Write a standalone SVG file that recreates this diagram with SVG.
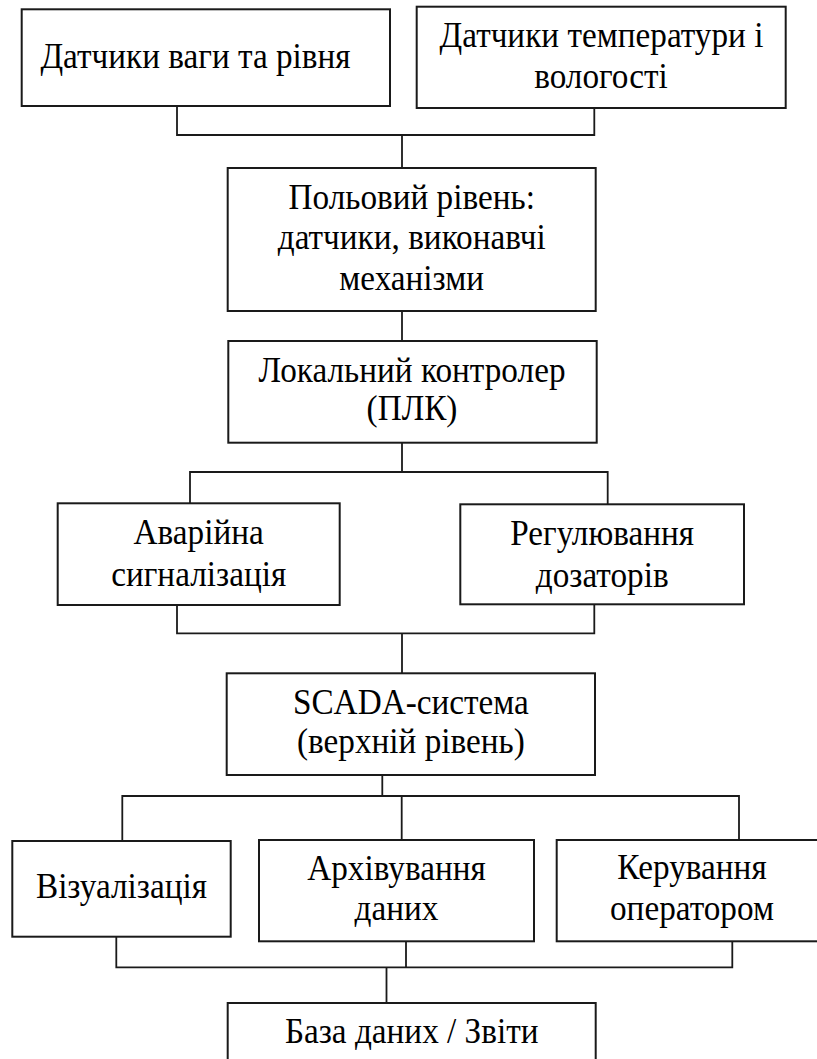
<svg xmlns="http://www.w3.org/2000/svg" width="817" height="1059" viewBox="0 0 817 1059">
<defs>
<style>
.box{fill:#fff;stroke:#1a1a1a;stroke-width:2}
.ln{fill:none;stroke:#1a1a1a;stroke-width:1.8}
</style>
</defs>
<rect width="817" height="1059" fill="#fff"/>
<g id="connectors">
<path class="ln" d="M177,106 V135 H594.3 V108 M402,135 V168"/>
<path class="ln" d="M402,311 V341"/>
<path class="ln" d="M402,442.7 V472 M190,503.3 V472 H607.7 V504.3"/>
<path class="ln" d="M177,605 V633.3 H594.3 V604.3 M402,633.3 V673.3"/>
<path class="ln" d="M382.3,775 V796 M122.3,841 V796 H739 V840 M401.7,796 V840"/>
<path class="ln" d="M116.3,936.7 V967.3 H732.3 V941.3 M406,941.3 V967.3 M386.5,967.3 V1003"/>
</g>
<g id="n1"><rect class="box" x="21.7" y="9.3" width="368.3" height="96.7"/><text font-family="Liberation Serif, serif" font-size="35" text-anchor="middle" transform="matrix(0.95 0 0 1 195.5 0)" x="0" y="68.3">Датчики ваги та рівня</text></g>
<g id="n2"><rect class="box" x="416.7" y="6.7" width="369" height="101.3"/><text font-family="Liberation Serif, serif" font-size="35" text-anchor="middle" transform="matrix(0.95 0 0 1 601.5 0)" x="0" y="46.7">Датчики температури і</text><text font-family="Liberation Serif, serif" font-size="35" text-anchor="middle" transform="matrix(0.95 0 0 1 601 0)" x="0" y="88.3">вологості</text></g>
<g id="n3"><rect class="box" x="227.7" y="168" width="368" height="143"/><text font-family="Liberation Serif, serif" font-size="35" text-anchor="middle" transform="matrix(0.95 0 0 1 411.7 0)" x="0" y="209">Польовий рівень:</text><text font-family="Liberation Serif, serif" font-size="35" text-anchor="middle" transform="matrix(0.95 0 0 1 411.7 0)" x="0" y="249">датчики, виконавчі</text><text font-family="Liberation Serif, serif" font-size="35" text-anchor="middle" transform="matrix(0.95 0 0 1 411.7 0)" x="0" y="290">механізми</text></g>
<g id="n4"><rect class="box" x="228.3" y="341" width="368.4" height="101.7"/><text font-family="Liberation Serif, serif" font-size="35" text-anchor="middle" transform="matrix(0.95 0 0 1 412 0)" x="0" y="381.7">Локальний контролер</text><text font-family="Liberation Serif, serif" font-size="35" text-anchor="middle" transform="matrix(0.95 0 0 1 412 0)" x="0" y="420">(ПЛК)</text></g>
<g id="n5"><rect class="box" x="57.7" y="503.3" width="282" height="101.7"/><text font-family="Liberation Serif, serif" font-size="35" text-anchor="middle" transform="matrix(0.95 0 0 1 198.7 0)" x="0" y="544">Аварійна</text><text font-family="Liberation Serif, serif" font-size="35" text-anchor="middle" transform="matrix(0.95 0 0 1 198.7 0)" x="0" y="585.7">сигналізація</text></g>
<g id="n6"><rect class="box" x="460.3" y="504.3" width="283.7" height="100"/><text font-family="Liberation Serif, serif" font-size="35" text-anchor="middle" transform="matrix(0.95 0 0 1 602.2 0)" x="0" y="545">Регулювання</text><text font-family="Liberation Serif, serif" font-size="35" text-anchor="middle" transform="matrix(0.95 0 0 1 602.2 0)" x="0" y="586.7">дозаторів</text></g>
<g id="n7"><rect class="box" x="226.7" y="673.3" width="368.3" height="101.7"/><text font-family="Liberation Serif, serif" font-size="35" text-anchor="middle" transform="matrix(0.95 0 0 1 410.9 0)" x="0" y="714">SCADA-система</text><text font-family="Liberation Serif, serif" font-size="35" text-anchor="middle" transform="matrix(0.95 0 0 1 410.9 0)" x="0" y="752.7">(верхній рівень)</text></g>
<g id="n8"><rect class="box" x="12.3" y="841" width="218.4" height="95.7"/><text font-family="Liberation Serif, serif" font-size="35" text-anchor="middle" transform="matrix(0.95 0 0 1 121.5 0)" x="0" y="898.3">Візуалізація</text></g>
<g id="n9"><rect class="box" x="259" y="840" width="275" height="101.3"/><text font-family="Liberation Serif, serif" font-size="35" text-anchor="middle" transform="matrix(0.95 0 0 1 396.5 0)" x="0" y="880">Архівування</text><text font-family="Liberation Serif, serif" font-size="35" text-anchor="middle" transform="matrix(0.95 0 0 1 396.5 0)" x="0" y="920">даних</text></g>
<g id="n10"><rect class="box" x="556.7" y="840" width="270.6" height="101.3"/><text font-family="Liberation Serif, serif" font-size="35" text-anchor="middle" transform="matrix(0.95 0 0 1 692 0)" x="0" y="879.3">Керування</text><text font-family="Liberation Serif, serif" font-size="35" text-anchor="middle" transform="matrix(0.95 0 0 1 692 0)" x="0" y="920">оператором</text></g>
<g id="n11"><rect class="box" x="227.7" y="1003" width="368" height="70"/><text font-family="Liberation Serif, serif" font-size="35" text-anchor="middle" transform="matrix(0.95 0 0 1 411.7 0)" x="0" y="1042.7">База даних / Звіти</text></g>
</svg>
